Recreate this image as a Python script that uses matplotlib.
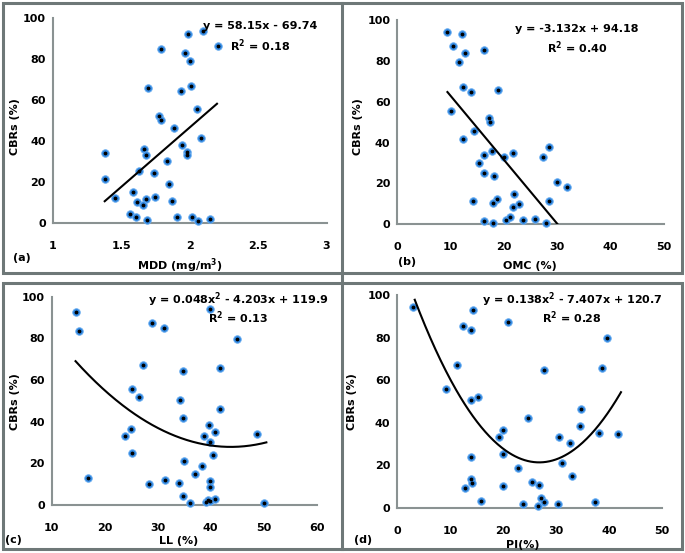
import matplotlib
matplotlib.use("Agg")
import matplotlib.pyplot as plt
import numpy as np
from matplotlib.lines import Line2D
from matplotlib.patches import Rectangle

W, H = 685, 553
plt.rcParams['font.family'] = ['DejaVu Sans']
plt.rcParams['font.weight'] = 'bold'

# CBR vs MDD (a)
mdd_x = [1.988, 2.10, 2.205, 1.79, 1.968, 2.0, 1.695, 1.937, 2.01, 2.054, 1.778, 1.79, 1.883,
         2.083, 1.941, 1.67, 1.98, 1.98, 1.683, 1.38, 1.834, 1.627, 1.737, 1.38, 1.846, 1.585,
         1.456, 1.746, 1.615, 1.683, 1.659, 1.873, 1.566, 1.605, 1.688, 1.907, 2.017, 2.063, 2.146]
mdd_y = [92.3, 93.8, 86.5, 84.8, 83.2, 79.1, 65.7, 64.4, 66.9, 55.5, 52.2, 50.2, 46.2,
         41.3, 38.0, 35.9, 34.7, 33.1, 33.1, 34.3, 30.0, 25.4, 24.1, 21.2, 18.8, 14.8,
         11.9, 12.7, 10.0, 11.6, 8.6, 10.8, 4.2, 2.8, 1.5, 2.9, 2.9, 1.0, 1.8]

# CBR vs OMC (b)
omc_x = [9.25, 12.1, 10.5, 12.7, 16.3, 11.6, 12.25, 13.75, 18.9, 10.1, 17.25, 17.4, 14.4,
         12.25, 28.4, 17.8, 16.3, 20.0, 21.75, 27.25, 15.3, 16.3, 18.1, 30.0, 31.75, 21.9,
         14.25, 18.6, 18.0, 22.9, 21.6, 28.4, 16.25, 17.9, 20.4, 21.1, 23.6, 25.8, 27.8]
omc_y = [94.3, 93.0, 87.3, 83.7, 85.3, 79.6, 67.0, 64.9, 65.7, 55.6, 52.2, 50.2, 45.8,
         41.6, 38.0, 36.1, 34.1, 33.1, 34.7, 33.1, 30.2, 25.0, 23.8, 20.9, 18.4, 14.8,
         11.6, 12.4, 10.6, 10.0, 8.6, 11.4, 1.5, 0.8, 2.1, 3.4, 2.1, 2.6, 0.5]

# CBR vs LL (c)
ll_x = [14.6, 15.1, 29.0, 31.1, 39.9, 44.9, 27.2, 34.7, 41.8, 25.1, 26.5, 34.2, 41.8,
        34.7, 39.7, 24.9, 23.8, 38.7, 40.9, 48.7, 39.9, 25.2, 40.5, 34.9, 38.3, 37.1,
        16.9, 31.3, 28.3, 34.0, 39.9, 39.9, 34.8, 36.1, 39.1, 39.4, 39.9, 40.9, 50.1]
ll_y = [92.8, 83.5, 87.2, 85.1, 94.1, 79.7, 67.2, 64.5, 65.6, 55.7, 52.0, 50.4, 46.1,
        41.6, 38.4, 36.3, 33.1, 33.3, 34.9, 34.2, 30.1, 25.1, 24.0, 21.1, 18.7, 14.7,
        12.8, 12.0, 9.9, 10.4, 11.5, 8.8, 4.3, 0.8, 1.3, 2.2, 2.1, 2.9, 1.1]

# CBR vs PI (d)
pi_x = [3.0, 14.4, 20.9, 12.5, 13.9, 39.6, 11.2, 27.8, 38.7, 9.3, 15.2, 13.9, 34.7,
        24.7, 34.5, 19.9, 19.3, 30.6, 38.1, 41.7, 32.7, 13.9, 19.9, 31.1, 22.8, 33.1,
        13.9, 14.2, 12.8, 19.9, 25.5, 26.8, 15.8, 23.8, 27.1, 27.8, 26.7, 30.3, 37.3]
pi_y = [94.2, 92.9, 87.1, 85.6, 83.5, 79.6, 67.1, 64.7, 65.8, 55.6, 52.2, 50.6, 46.2,
        42.0, 38.4, 36.4, 33.1, 33.4, 35.1, 34.5, 30.3, 24.0, 25.1, 21.2, 18.8, 14.9,
        13.3, 11.4, 9.1, 10.2, 11.9, 10.7, 3.1, 1.6, 4.4, 2.5, 0.8, 1.7, 2.5]

# trendline coefficients (highest power first) and drawn x range
fits = [[58.15, -69.74], [-3.132, 94.18], [0.048, -4.203, 119.9], [0.138, -7.407, 120.7]]
fit_ranges = [(1.38, 2.2), (9.4, 30.07), (14.5, 50.5), (3.3, 42.3)]
equations = ["y = 58.15x - 69.74", "y = -3.132x + 94.18",
             "y = 0.048x$^2$ - 4.203x + 119.9", "y = 0.138x$^2$ - 7.407x + 120.7"]
r2_labels = ["R$^2$ = 0.18", "R$^2$ = 0.40", "R$^2$ = 0.13", "R$^2$ = 0.28"]
xlabels = ["MDD (mg/m$^3$)", "OMC (%)", "LL (%)", "PI(%)"]
tags = ["(a)", "(b)", "(c)", "(d)"]
xticks = [[1, 1.5, 2, 2.5, 3], [0, 10, 20, 30, 40, 50], [10, 20, 30, 40, 50, 60], [0, 10, 20, 30, 40, 50]]
xticklabels = [["1", "1.5", "2", "2.5", "3"], None, None, None]
yticks = [0, 20, 40, 60, 80, 100]

xs = [mdd_x, omc_x, ll_x, pi_x]
ys = [mdd_y, omc_y, ll_y, pi_y]

# pixel boxes: left, right, top, bottom
boxes = [(52.7, 326.5, 18.3, 222.7), (397.3, 664, 20, 224.3),
         (51.7, 316.7, 296.7, 505), (397.3, 661.7, 295, 507.7)]
eq_pos = [(260, 26, 46), (577, 29, 48), (238, 300, 318), (572, 300, 318)]
xlabel_pos = [(180, 266), (530, 266), (179, 541), (523, 545)]
tag_pos = [(22, 258), (407, 262), (13, 540), (363, 540)]
ylabel_pos = [(15, 127), (358, 127), (15, 402), (352, 402)]

fig = plt.figure(figsize=(W / 100, H / 100), dpi=100)

def fx(px):
    return px / W

def fy(py):
    return 1 - py / H

blue = '#2f86e0'
for i in range(4):
    l, r, t, b = boxes[i]
    ax = fig.add_axes([fx(l), fy(b), fx(r) - fx(l), fy(t) - fy(b)])
    ax.set_xlim(xticks[i][0], xticks[i][-1])
    ax.set_ylim(0, 100)
    ax.scatter(xs[i], ys[i], s=30, color=blue, edgecolors='#6fb0f0', linewidths=0.6, zorder=3, clip_on=False)
    ax.scatter(xs[i], ys[i], s=3, color='black', zorder=4, clip_on=False)
    xx = np.linspace(fit_ranges[i][0], fit_ranges[i][1], 200)
    ax.plot(xx, np.polyval(fits[i], xx), color='black', lw=1.5, zorder=5)
    ax.set_xticks(xticks[i])
    if xticklabels[i]:
        ax.set_xticklabels(xticklabels[i])
    ax.set_yticks(yticks)
    ax.tick_params(length=0, labelsize=8)
    ax.tick_params(axis='x', pad=13)
    ax.tick_params(axis='y', pad=5)
    for side in ['top', 'right']:
        ax.spines[side].set_visible(False)
    for side in ['left', 'bottom']:
        ax.spines[side].set_color('#8a9292')
        ax.spines[side].set_linewidth(1.5)
    ax.patch.set_alpha(0)

    ex, ey1, ey2 = eq_pos[i]
    fig.text(fx(ex), fy(ey1), equations[i], ha='center', va='center', fontsize=8, fontweight='bold')
    fig.text(fx(ex), fy(ey2), r2_labels[i], ha='center', va='center', fontsize=8, fontweight='bold')
    fig.text(fx(xlabel_pos[i][0]), fy(xlabel_pos[i][1]), xlabels[i], ha='center', va='center', fontsize=8, fontweight='bold')
    fig.text(fx(tag_pos[i][0]), fy(tag_pos[i][1]), tags[i], ha='center', va='center', fontsize=8, fontweight='bold')
    fig.text(fx(ylabel_pos[i][0]), fy(ylabel_pos[i][1]), "CBRs (%)", ha='center', va='center',
             rotation=90, fontsize=8, fontweight='bold')

# panel frames
frame = '#6e7878'
fig.add_artist(Rectangle((fx(3), fy(273)), fx(682) - fx(3), fy(3) - fy(273), fill=False,
                         edgecolor=frame, lw=2.2, transform=fig.transFigure))
fig.add_artist(Rectangle((fx(3), fy(549)), fx(682) - fx(3), fy(283) - fy(549), fill=False,
                         edgecolor=frame, lw=2.2, transform=fig.transFigure))
fig.add_artist(Line2D([fx(342), fx(342)], [fy(3), fy(549)], color=frame, lw=2.2, transform=fig.transFigure))

fig.savefig('out.png', dpi=100)
